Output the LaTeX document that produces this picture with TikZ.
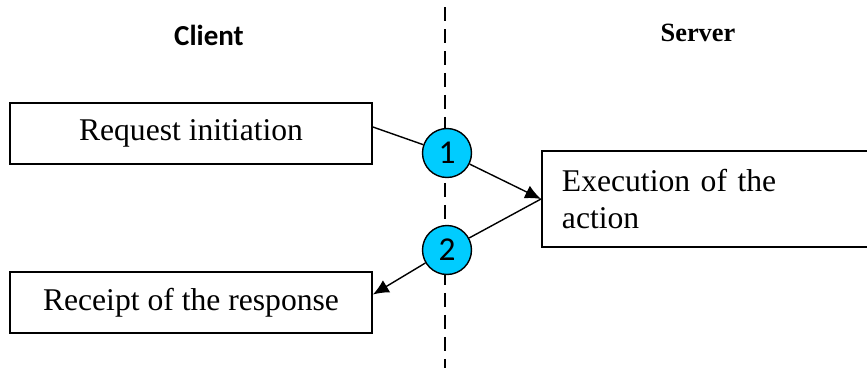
\documentclass[tikz,border=0pt]{standalone}
\usepackage{fontspec}
\setmainfont{Liberation Serif}
\newfontfamily\calibri{Carlito}
\usetikzlibrary{arrows.meta}
\definecolor{numcyan}{RGB}{0,204,255}

\begin{document}
\begin{tikzpicture}[x=0.02cm,y=-0.02cm,
    box/.style={draw,line width=1.1pt,minimum width=7.24cm,minimum height=1.22cm,font=\fontsize{18}{21}\selectfont},
    num/.style={circle,draw,line width=0.8pt,fill=numcyan,minimum size=0.98cm,inner sep=0pt,font=\calibri\fontsize{19}{22}\selectfont},
    link/.style={line width=0.8pt}]
                 \useasboundingbox (0,0) rectangle (867,370);
                 \draw[dash pattern=on 0.28cm off 0.16cm,line width=0.8pt] (445,7) -- (445,368);
                 \node[font=\calibri\bfseries\fontsize{16.5}{19}\selectfont] (client) at (209,35) {Client};
                 \node[font=\bfseries\fontsize{15}{18}\selectfont] (server) at (698,33) {Server};
                 \node[box] (req) at (191,133.5) {Request initiation};
                 \node[box] (resp) at (191,302.5) {Receipt of the response};
                 \node[box,minimum width=6.8cm,minimum height=1.92cm,anchor=west,inner xsep=0.4cm,text width=6cm,align=left] (exec) at (541,199) {Execution of the\\action};
                 \node[num] (one) at (447,153) {1};
                 \node[num] (two) at (447,250) {2};
                 \draw[link] ([yshift=0.13cm]req.east) -- (one);
                 \draw[link,-{Latex[length=9pt,width=8pt]}] (one) -- (exec.west);
                 \draw[link] (exec.west) -- (two);
                 \draw[link,-{Latex[length=9pt,width=8pt]}] (two) -- ([yshift=0.16cm]resp.east);
\end{tikzpicture}
\end{document}
